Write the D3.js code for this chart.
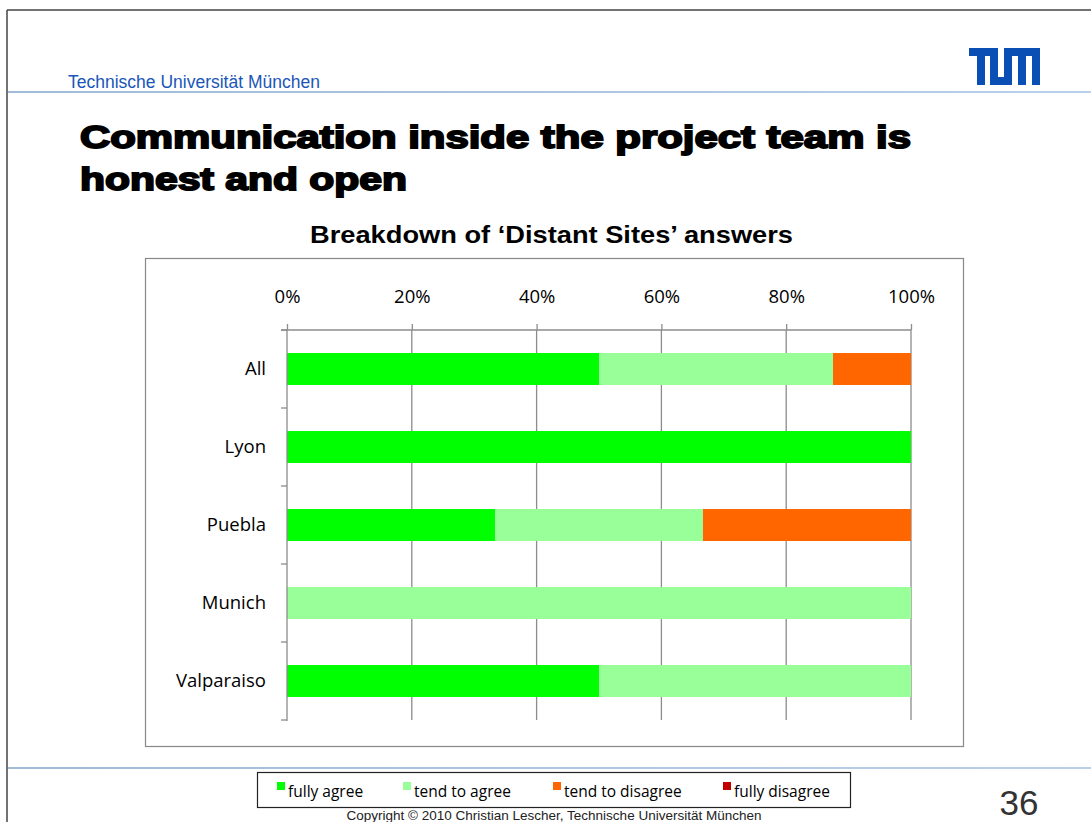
<!DOCTYPE html>
<html><head><meta charset="utf-8">
<script src="https://cdn.jsdelivr.net/npm/d3@7/dist/d3.min.js"></script>
<style>body{margin:0;background:#fff;}svg{display:block;}</style>
</head><body>
<script>
const categories = ["All","Lyon","Puebla","Munich","Valparaiso"];
const seriesNames = ["fully agree","tend to agree","tend to disagree","fully disagree"];
const fullyAgree    = [50, 100, 33.33, 0, 50];
const tendToAgree   = [37.5, 0, 33.33, 100, 50];
const tendToDisagree= [12.5, 0, 33.34, 0, 0];
const fullyDisagree = [0, 0, 0, 0, 0];
const tickValues = [0,20,40,60,80,100];
const tickLabels = ["0%","20%","40%","60%","80%","100%"];
const colors = ["#00ff00","#99ff99","#ff6600","#c00000"];

const W=1091,H=822;
const svg=d3.select("body").append("svg").attr("width",W).attr("height",H);
const cal="'Open Sans', Lato, sans-serif";
const sans="'Liberation Sans', Arial, sans-serif";

// slide frame
svg.append("line").attr("x1",7).attr("x2",W).attr("y1",10).attr("y2",10).attr("stroke","#444").attr("stroke-width",1.5);
svg.append("line").attr("x1",7).attr("x2",7).attr("y1",10).attr("y2",H).attr("stroke","#444").attr("stroke-width",1.5);
const defs=svg.append("defs");
const lg=defs.append("linearGradient").attr("id","hl");
lg.append("stop").attr("offset","0").attr("stop-color","#9fbbd8");
lg.append("stop").attr("offset","1").attr("stop-color","#b9d0ea");
svg.append("rect").attr("x",8).attr("y",91).attr("width",W-8).attr("height",2).attr("fill","url(#hl)");
svg.append("rect").attr("x",8).attr("y",767).attr("width",W-8).attr("height",2).attr("fill","url(#hl)");

svg.append("text").attr("x",68).attr("y",88).attr("font-family",sans).attr("font-size",17.5).attr("fill","#1a56b8").text("Technische Universität München");

// TUM logo
const lgC="#0a50b4";
const logo=svg.append("g").attr("fill",lgC);
[[969,48,27,8],[977,48,8,37],[990,48,8,37],[990,77,22,8],[1004,48,36,8],[1004,48,8,37],[1018,48,8,37],[1032,48,8,37]]
 .forEach(r=>logo.append("rect").attr("x",r[0]).attr("y",r[1]).attr("width",r[2]).attr("height",r[3]));

// Slide title
const tAttrs=s=>s.attr("font-family",sans).attr("font-weight","bold").attr("font-size",31).attr("fill","#000")
 .attr("stroke","#000").attr("stroke-width",1.8).attr("lengthAdjust","spacingAndGlyphs");
tAttrs(svg.append("text").attr("x",80).attr("y",148).attr("textLength",831)).text("Communication inside the project team is");
tAttrs(svg.append("text").attr("x",80).attr("y",190).attr("textLength",327)).text("honest and open");

svg.append("text").attr("x",310).attr("y",243).attr("font-family",sans).attr("font-weight","bold").attr("font-size",24)
 .attr("textLength",483).attr("lengthAdjust","spacingAndGlyphs").text("Breakdown of \u2018Distant Sites\u2019 answers");

// chart box
svg.append("rect").attr("x",145.5).attr("y",258.5).attr("width",818).attr("height",488).attr("fill","none").attr("stroke","#888").attr("stroke-width",1.2);

const x=d3.scaleLinear().domain([0,100]).range([287,911]);
const y=d3.scaleBand().domain(categories).range([330,720]).paddingInner(0.59).paddingOuter(0.295);

// gridlines
svg.append("g").selectAll("line").data(tickValues.slice(1)).join("line")
 .attr("x1",d=>x(d)).attr("x2",d=>x(d)).attr("y1",330).attr("y2",720).attr("stroke","#8c8c8c").attr("stroke-width",1.3);

// top axis
const xa=svg.append("g").attr("transform","translate(0,330)")
 .call(d3.axisTop(x).tickValues(tickValues).tickFormat((d,i)=>tickLabels[i]).tickSizeInner(6).tickSizeOuter(0).tickPadding(21));
xa.select(".domain").attr("stroke","#8c8c8c").attr("stroke-width",1.3).attr("d","M281,0H911");
xa.selectAll(".tick line").attr("stroke","#8c8c8c").attr("stroke-width",1.3);
xa.selectAll(".tick text").attr("font-family",cal).attr("font-size",18.5).attr("fill","#000");

// stacked bars
const rows=categories.map((c,i)=>({cat:c,vals:[fullyAgree[i],tendToAgree[i],tendToDisagree[i],fullyDisagree[i]]}));
const stack=d3.stack().keys([0,1,2,3]).value((d,k)=>d.vals[k]);
const st=stack(rows);
const bars=svg.append("g");
st.forEach((s,k)=>{
  bars.append("g").attr("fill",colors[k]).selectAll("rect").data(s).join("rect")
   .attr("x",d=>x(d[0])).attr("width",d=>x(d[1])-x(d[0]))
   .attr("y",d=>y(d.data.cat)).attr("height",y.bandwidth());
});

// left axis
const ya=svg.append("g").attr("transform","translate(287,0)");
ya.append("line").attr("x1",0).attr("x2",0).attr("y1",330).attr("y2",721).attr("stroke","#8c8c8c").attr("stroke-width",1.3);
ya.selectAll(".bt").data(d3.range(categories.length+1)).join("line")
 .attr("x1",-6).attr("x2",0).attr("y1",i=>330+i*y.step()).attr("y2",i=>330+i*y.step()).attr("stroke","#8c8c8c").attr("stroke-width",1.3);
ya.selectAll("text").data(categories).join("text")
 .attr("x",-21).attr("y",d=>y(d)+y.bandwidth()/2).attr("dy","0.35em").attr("text-anchor","end")
 .attr("font-family",cal).attr("font-size",18.5).text(d=>d);

// legend
svg.append("rect").attr("x",257.5).attr("y",772.5).attr("width",593).attr("height",35).attr("fill","#fff").attr("stroke","#222").attr("stroke-width",1.2);
const legX=[277,403,553,723];
seriesNames.forEach((n,k)=>{
  svg.append("rect").attr("x",legX[k]).attr("y",782).attr("width",8).attr("height",8).attr("fill",colors[k]);
  svg.append("text").attr("x",legX[k]+11).attr("y",797).attr("font-family",cal).attr("font-size",15.5).text(n);
});

svg.append("text").attr("x",1019).attr("y",815).attr("text-anchor","middle").attr("font-family",sans).attr("font-size",35).attr("fill","#333").text("36");
svg.append("text").attr("x",554).attr("y",820).attr("text-anchor","middle").attr("font-family",sans).attr("font-size",13.5).attr("fill","#222").text("Copyright \u00a9 2010 Christian Lescher, Technische Universität München");
</script>
</body></html>
